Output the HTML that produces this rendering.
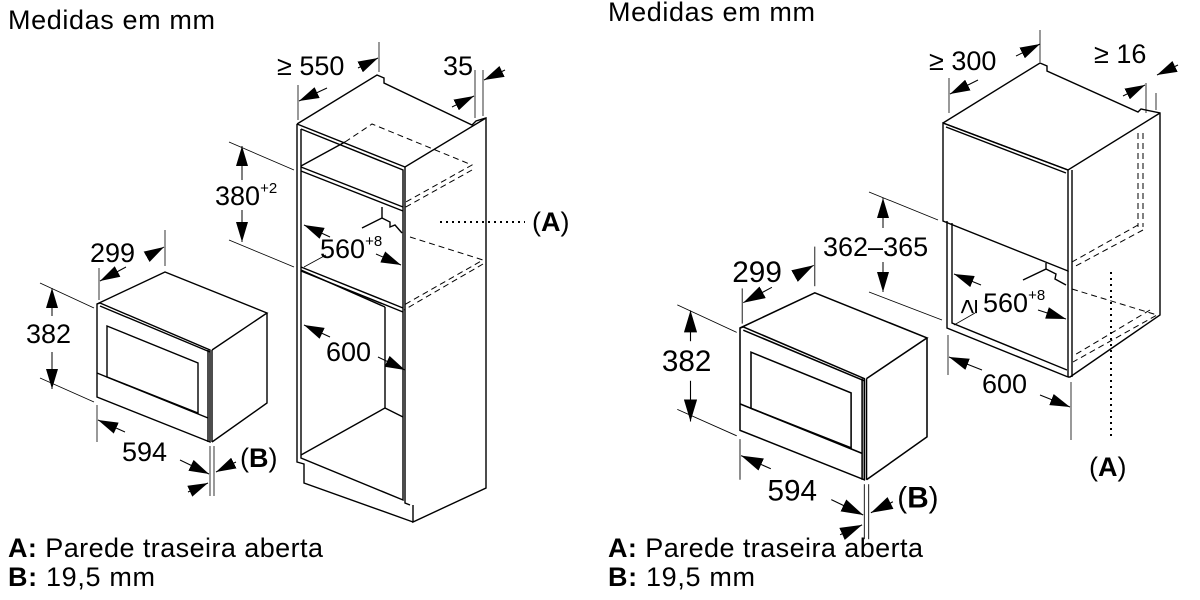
<!DOCTYPE html>
<html><head><meta charset="utf-8"><style>
html,body{margin:0;padding:0;background:#fff;}
svg{display:block;font-family:"Liberation Sans",Arial,sans-serif;}
</style></head><body>
<svg width="1200" height="600" viewBox="0 0 1200 600" xmlns="http://www.w3.org/2000/svg">
<defs>
<marker id="a2" viewBox="0 0 20 12" refX="20" refY="6" markerWidth="20" markerHeight="12" orient="auto-start-reverse" markerUnits="userSpaceOnUse">
<path d="M0,0 L20,6 L0,12 z" fill="#000"/></marker>
<g id="mw">
 <g fill="none" stroke="#000" stroke-width="1.4">
  <polyline points="97,304 165,272 267,313 212,350"/>
  <polyline points="267,313 267,403 212,442"/>
  <polyline points="100,306 210,352"/>
  <polygon points="97,304 100,303 210,350 210,442 97,397"/>
  <polyline points="212,350 212,442"/>
  <polyline points="208,350 208,442"/>
  <polygon points="107,326 198,363 198,413 107,377"/>
  <polyline points="97,373 208,418"/>
 </g>
 <g fill="none" stroke="#000" stroke-width="0.8">
  <line x1="99" y1="300" x2="99" y2="268"/>
  <line x1="165" y1="266" x2="165" y2="230"/>
  <line x1="40" y1="283" x2="94" y2="308"/>
  <line x1="40" y1="378" x2="94" y2="402"/>
  <line x1="97" y1="405" x2="97" y2="442"/>
  <line x1="210" y1="446" x2="210" y2="496"/>
  <line x1="214" y1="446" x2="214" y2="496"/>
 </g>
 <g stroke="#000" stroke-width="1" marker-end="url(#a2)">
  <line x1="126" y1="267" x2="100" y2="281"/>
  <line x1="148" y1="256" x2="164" y2="247"/>
  <line x1="52" y1="316" x2="52" y2="288"/>
  <line x1="52" y1="352" x2="52" y2="389"/>
  <line x1="125" y1="432" x2="98" y2="420"/>
  <line x1="180" y1="460" x2="209" y2="474"/>
  <line x1="188" y1="492" x2="208" y2="483"/>
  <line x1="236" y1="462" x2="216" y2="472"/>
 </g>
 <g font-size="27" fill="#000">
  <text x="90" y="262">299</text>
  <text x="26" y="343">382</text>
  <text x="122" y="461">594</text>
  <text x="240" y="467">(<tspan font-weight="bold">B</tspan>)</text>
 </g>
</g>
</defs>

<text x="8" y="29" font-size="27" textLength="207">Medidas em mm</text>
<text x="608" y="21" font-size="27" textLength="207">Medidas em mm</text>

<g font-size="27">
<text x="8" y="557" textLength="315"><tspan font-weight="bold">A:</tspan> Parede traseira aberta</text>
<text x="8" y="586" textLength="147"><tspan font-weight="bold">B:</tspan> 19,5 mm</text>
<text x="608" y="557" textLength="315"><tspan font-weight="bold">A:</tspan> Parede traseira aberta</text>
<text x="608" y="586" textLength="147"><tspan font-weight="bold">B:</tspan> 19,5 mm</text>
</g>

<use href="#mw"/>
<g transform="translate(740,328) scale(1.1) translate(-97,-304)"><use href="#mw"/></g>

<!-- LEFT CABINET -->
<g fill="none" stroke="#000" stroke-width="1.4">
 <polyline points="297,124 377,75 384,78 384,83 472,125 476,121 486,118 486,488 413,522 413,505"/>
 <polyline points="297,124 405,167 486,118"/>
 <polyline points="297,124 297,462 304,464 304,483 413,522"/>
 <polyline points="405,167 405,503 410,505"/>
 <polyline points="301,129 403,170 403,500 301,458 301,129"/>
 <polyline points="301,167 403,207"/>
 <polyline points="301,171 403,211"/>
 <polyline points="301,267 403,308"/>
 <polyline points="301,271 403,312"/>
 <polyline points="301,166 345,142"/>
 <polyline points="301,270 385,307"/>
 <polyline points="385,307 385,408 301,455"/>
 <polyline points="385,408 403,417"/>
 <polyline points="362,228 382,218 382,207"/>
 <polyline points="382,218 390,222 390,227 395,225 402,233"/>
</g>
<g fill="none" stroke="#000" stroke-width="1" stroke-dasharray="6,4">
 <polyline points="345,142 372,124 472,165 404,203"/>
 <polyline points="472,170 404,208"/>
 <polyline points="410,237 483,260 404,305"/>
 <polyline points="483,264 404,310"/>
</g>
<g fill="none" stroke="#000" stroke-width="0.8">
 <line x1="298" y1="120" x2="298" y2="85"/>
 <line x1="379" y1="72" x2="379" y2="42"/>
 <line x1="475" y1="118" x2="475" y2="70"/>
 <line x1="483" y1="116" x2="483" y2="70"/>
 <line x1="229" y1="142" x2="294" y2="170"/>
 <line x1="229" y1="240" x2="294" y2="267"/>
 <line x1="304" y1="267" x2="326" y2="255"/>
</g>
<g stroke="#000" stroke-width="1" marker-end="url(#a2)">
 <line x1="327" y1="88" x2="299" y2="101"/>
 <line x1="358" y1="68" x2="378" y2="58"/>
 <line x1="452" y1="107" x2="474" y2="96"/>
 <line x1="505" y1="70" x2="484" y2="80"/>
 <line x1="242" y1="180" x2="242" y2="146"/>
 <line x1="242" y1="210" x2="242" y2="242"/>
 <line x1="330" y1="237" x2="304" y2="225"/>
 <line x1="376" y1="254" x2="401" y2="265"/>
 <line x1="330" y1="337" x2="304" y2="325"/>
 <line x1="378" y1="357" x2="405" y2="370"/>
</g>
<line x1="440" y1="222" x2="525" y2="222" stroke="#000" stroke-width="2" stroke-dasharray="2,4"/>
<g font-size="27">
 <text x="277" y="75">≥ 550</text>
 <text x="443" y="75">35</text>
 <text x="215" y="205">380<tspan font-size="15" dy="-12">+2</tspan></text>
 <text x="320" y="258">560<tspan font-size="15" dy="-12">+8</tspan></text>
 <text x="326" y="361">600</text>
 <text x="532" y="231">(<tspan font-weight="bold">A</tspan>)</text>
</g>

<!-- RIGHT CABINET -->
<g fill="none" stroke="#000" stroke-width="1.4">
 <polyline points="943,123 1040,63 1047,66 1047,71 1138,112 1141,109 1160,113 1160,315 1070,377 1068,377"/>
 <polyline points="943,123 1068,170 1160,113"/>
 <polyline points="946,127 1066,173"/>
 <polygon points="943,123 1068,170 1068,271 943,221"/>
 <polyline points="1072,170 1072,377"/>
 <polyline points="947,221 947,328 1068,377"/>
 <polyline points="952,223 952,323 1067,370"/>
 <polyline points="1068,271 1068,377"/>
 <polyline points="1023,280 1046,269 1046,263"/>
 <polyline points="1046,269 1056,274 1055,279 1066,285"/>
</g>
<g fill="none" stroke="#000" stroke-width="1" stroke-dasharray="6,4">
 <line x1="1138" y1="133" x2="1138" y2="227"/>
 <line x1="1143" y1="133" x2="1143" y2="227"/>
 <polyline points="1143,230 1072,268"/>
 <polyline points="1138,225 1072,262"/>
 <polyline points="1072,289 1157,315 1073,362"/>
 <polyline points="1150,310 1073,356"/>
</g>
<g fill="none" stroke="#000" stroke-width="0.8">
 <line x1="949" y1="113" x2="949" y2="78"/>
 <line x1="1040" y1="62" x2="1040" y2="30"/>
 <line x1="1146" y1="113" x2="1146" y2="83"/>
 <line x1="1156" y1="110" x2="1156" y2="93"/>
 <line x1="869" y1="192" x2="938" y2="220"/>
 <line x1="869" y1="292" x2="942" y2="320"/>
 <line x1="948" y1="335" x2="948" y2="375"/>
 <line x1="1071" y1="382" x2="1071" y2="440"/>
 <line x1="954" y1="325" x2="975" y2="313"/>
</g>
<g stroke="#000" stroke-width="1" marker-end="url(#a2)">
 <line x1="978" y1="80" x2="950" y2="94"/>
 <line x1="1016" y1="56" x2="1040" y2="44"/>
 <line x1="1123" y1="96" x2="1145" y2="85"/>
 <line x1="1178" y1="65" x2="1157" y2="75"/>
 <line x1="883" y1="228" x2="883" y2="198"/>
 <line x1="883" y1="262" x2="883" y2="292"/>
 <line x1="981" y1="285" x2="954" y2="274"/>
 <line x1="1038" y1="310" x2="1066" y2="319"/>
 <line x1="982" y1="370" x2="949" y2="357"/>
 <line x1="1040" y1="395" x2="1070" y2="407"/>
</g>
<line x1="1111" y1="272" x2="1111" y2="440" stroke="#000" stroke-width="2" stroke-dasharray="2,4"/>
<g font-size="27">
 <text x="929" y="70">≥ 300</text>
 <text x="1094" y="63">≥ 16</text>
 <text x="823" y="256">362–365</text>
 <text transform="translate(977,314) rotate(-90)" x="0" y="0">≥</text>
 <text x="983" y="312">560<tspan font-size="15" dy="-12">+8</tspan></text>
 <text x="982" y="393">600</text>
 <text x="1089" y="476">(<tspan font-weight="bold">A</tspan>)</text>
</g>
</svg>
</body></html>
